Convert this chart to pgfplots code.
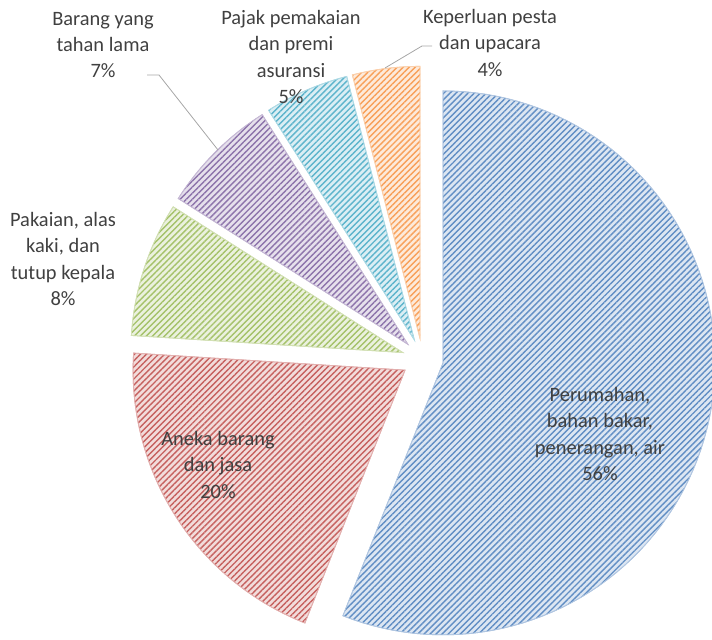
\documentclass[border=0pt]{standalone}
\usepackage{pgfplots}
\pgfplotsset{compat=1.18}
\usepackage{fontspec}
\setmainfont{Carlito}
\usetikzlibrary{patterns.meta}
\definecolor{sBlue}{HTML}{4F81BD}
\definecolor{sRed}{HTML}{C0504D}
\definecolor{sGreen}{HTML}{9BBB59}
\definecolor{sPurple}{HTML}{8064A2}
\definecolor{sAqua}{HTML}{4BACC6}
\definecolor{sOrange}{HTML}{F79646}
\definecolor{lblgray}{HTML}{404040}
\definecolor{leader}{HTML}{A6A6A6}
\def\cx{422.6}
\def\cy{281}
\def\R{272}
\def\dd{20.8}
% #1 cumulative percent before the slice, #2 slice percent, #3 colour
\newcommand\slice[3]{%
  \pgfmathsetmacro\aA{90-3.6*(#1+#2)}%
  \pgfmathsetmacro\aB{90-3.6*#1}%
  \pgfmathsetmacro\aM{(\aA+\aB)/2}%
  \pgfmathsetmacro\ox{\cx+\dd*cos(\aM)}%
  \pgfmathsetmacro\oy{\cy+\dd*sin(\aM)}%
  \edef\temp{\noexpand\addplot[draw=#3!45, line width=0.8pt, fill=#3!20,
     postaction={pattern={Lines[angle=45,distance=4.3pt,line width=1.4pt]}, pattern color=#3!90},
     domain=\aA:\aB, samples=90, variable=\noexpand\t]
     ({\ox+\R*cos(\noexpand\t)},{\oy+\R*sin(\noexpand\t)}) -- (axis cs:\ox,\oy) -- cycle;}%
  \temp
}
\begin{document}
\begin{tikzpicture}
\begin{axis}[
  width=712bp, height=640bp, scale only axis,
  xmin=0, xmax=712, ymin=0, ymax=640,
  hide axis,
]
\draw[draw=none] (rel axis cs:0,0) rectangle (rel axis cs:1,1);
% values in percent: 56, 20, 8, 7, 5, 4
\slice{0}{56}{sBlue}
\slice{56}{20}{sRed}
\slice{76}{8}{sGreen}
\slice{84}{7}{sPurple}
\slice{91}{5}{sAqua}
\slice{96}{4}{sOrange}
\draw[leader, line width=0.8pt] (axis cs:147,565) -- (axis cs:159,565) -- (axis cs:218,490);
\draw[leader, line width=0.8pt] (axis cs:385,572) -- (axis cs:422,594) -- (axis cs:432,594);
\begin{scope}[every node/.style={align=center, text=lblgray, inner sep=0pt,
   font=\fontsize{20.5}{26.5}\selectfont}]
\node at (axis cs:103,595) {Barang yang\\tahan lama\\7\%};
\node at (axis cs:291,583) {Pajak pemakaian\\dan premi\\asuransi\\5\%};
\node at (axis cs:490,597) {Keperluan pesta\\dan upacara\\4\%};
\node at (axis cs:63,381) {Pakaian, alas\\kaki, dan\\tutup kepala\\8\%};
\node at (axis cs:218,175) {Aneka barang\\dan jasa\\20\%};
\node at (axis cs:600,206) {Perumahan,\\bahan bakar,\\penerangan, air\\56\%};
\end{scope}
\end{axis}
\end{tikzpicture}
\end{document}
